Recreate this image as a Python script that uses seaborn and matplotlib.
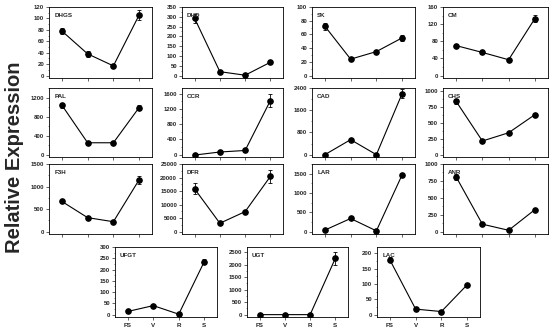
import numpy as np
import pandas as pd
import seaborn as sns
import matplotlib.pyplot as plt
from matplotlib.ticker import MultipleLocator, AutoMinorLocator

# stages on the x axis
stages = ["FS", "V", "R", "S"]

# mean expression and error per gene
dhgs = [78, 38, 17, 106]
dhgs_err = [6, 5, 3, 8]
dhd = [292, 20, 2, 68]
dhd_err = [22, 5, 3, 6]
sk = [72, 24, 35, 55]
sk_err = [5, 1, 2, 4]
cm = [70, 54, 37, 133]
cm_err = [4, 3, 2, 9]
pal = [1040, 250, 250, 990]
pal_err = [50, 20, 20, 50]
ccr = [-10, 70, 110, 1420]
ccr_err = [20, 20, 20, 170]
cad = [0, 540, 0, 2200]
cad_err = [30, 30, 30, 160]
chs = [840, 215, 345, 630]
chs_err = [40, 15, 15, 30]
f3h = [670, 310, 220, 1150]
f3h_err = [30, 20, 15, 90]
dfr = [15800, 3100, 7400, 20400]
dfr_err = [2000, 300, 700, 2400]
lar = [40, 340, 20, 1470]
lar_err = [20, 20, 20, 60]
anr = [810, 110, 20, 325]
anr_err = [40, 15, 10, 15]
ufgt = [14, 40, 2, 235]
ufgt_err = [3, 3, 2, 10]
ugt = [0, 0, 0, 2250]
ugt_err = [20, 10, 10, 250]
lac = [178, 18, 10, 97]
lac_err = [8, 3, 2, 3]

# name, mean, err, y top, y tick step, panel box in pixels (left, right, top, bottom)
panels = [
    ("DHGS", dhgs, dhgs_err, 120, 20, (49, 152, 7, 78)),
    ("DHD", dhd, dhd_err, 350, 50, (182, 283, 7, 78)),
    ("SK", sk, sk_err, 100, 20, (312, 415, 7, 78)),
    ("CM", cm, cm_err, 160, 40, (443, 548, 7, 78)),
    ("PAL", pal, pal_err, 1400, 400, (49, 152, 88, 157)),
    ("CCR", ccr, ccr_err, 1750, 400, (182, 283, 88, 157)),
    ("CAD", cad, cad_err, 2400, 800, (312, 415, 88, 157)),
    ("CHS", chs, chs_err, 1050, 250, (443, 548, 88, 157)),
    ("F3H", f3h, f3h_err, 1500, 500, (49, 152, 164, 234)),
    ("DFR", dfr, dfr_err, 25000, 5000, (182, 283, 164, 234)),
    ("LAR", lar, lar_err, 1750, 500, (312, 415, 164, 234)),
    ("ANR", anr, anr_err, 1000, 250, (443, 548, 164, 234)),
    ("UFGT", ufgt, ufgt_err, 300, 50, (115, 217, 247, 317)),
    ("UGT", ugt, ugt_err, 2700, 500, (247, 348, 247, 317)),
    ("LAC", lac, lac_err, 220, 50, (377, 480, 247, 317)),
]

sns.set_style("ticks")
plt.rcParams["font.family"] = ["Liberation Sans", "DejaVu Sans"]

W, H = 550, 332
fig = plt.figure(figsize=(W / 100, H / 100), dpi=100)

for name, mean, err, top, step, (l, r, t, b) in panels:
    ax = fig.add_axes([l / W, 1 - b / H, (r - l) / W, (b - t) / H])
    df = pd.DataFrame({"x": np.arange(4), "y": mean})
    sns.lineplot(data=df, x="x", y="y", ax=ax, color="black", lw=0.8,
                 marker="o", markersize=4, markeredgecolor="black")
    ax.errorbar(df["x"], df["y"], yerr=err, fmt="none", ecolor="black",
                elinewidth=0.6, capsize=1.5, capthick=0.6)
    ax.set_xlim(-0.5, 3.5)
    ax.set_ylim(-0.035 * top, top)
    ax.yaxis.set_major_locator(MultipleLocator(step))
    ax.yaxis.set_minor_locator(AutoMinorLocator(2))
    ax.set_xticks(range(4))
    if t > 240:
        ax.set_xticklabels(stages, fontsize=4.5, fontweight="bold")
    else:
        ax.set_xticklabels([])
    ax.tick_params(axis="y", labelsize=4.3, length=2, width=0.5, pad=1.5)
    ax.tick_params(axis="y", which="minor", length=1, width=0.4)
    ax.tick_params(axis="x", length=2, width=0.5, pad=2)
    for lab in ax.get_yticklabels():
        lab.set_fontweight("bold")
    for s in ax.spines.values():
        s.set_linewidth(0.6)
        s.set_color("black")
    ax.set_xlabel("")
    ax.set_ylabel("")
    ax.text(0.05, 0.92, name, transform=ax.transAxes, fontsize=4.5,
            fontweight="bold", va="top", ha="left")

fig.text(15 / W, 1 - 157 / H, "Relative Expression", rotation=90,
         fontsize=14.5, fontweight="bold", ha="center", va="center")

fig.savefig("out.png", dpi=100)
